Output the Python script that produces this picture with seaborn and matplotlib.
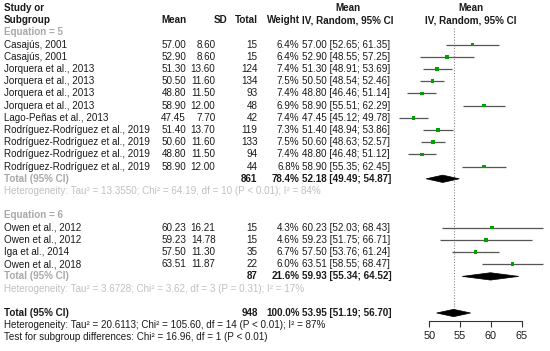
import matplotlib
matplotlib.use("Agg")
import matplotlib.pyplot as plt
import seaborn as sns
import pandas as pd
import numpy as np
from matplotlib.patches import Polygon

sns.set_theme(style="white")
plt.rcParams['font.family'] = ['Liberation Sans', 'DejaVu Sans']

# ---------------- data ----------------
studies = ["Casajús, 2001", "Casajús, 2001", "Jorquera et al., 2013", "Jorquera et al., 2013",
           "Jorquera et al., 2013", "Jorquera et al., 2013", "Lago-Peñas et al., 2013",
           "Rodríguez-Rodríguez et al., 2019", "Rodríguez-Rodríguez et al., 2019",
           "Rodríguez-Rodríguez et al., 2019", "Rodríguez-Rodríguez et al., 2019",
           "Owen et al., 2012", "Owen et al., 2012", "Iga et al., 2014", "Owen et al., 2018"]
groups = [5] * 11 + [6] * 4
means = [57.00, 52.90, 51.30, 50.50, 48.80, 58.90, 47.45, 51.40, 50.60, 48.80, 58.90,
         60.23, 59.23, 57.50, 63.51]
sds = [8.60, 8.60, 13.60, 11.60, 11.50, 12.00, 7.70, 13.70, 11.60, 11.50, 12.00,
       16.21, 14.78, 11.30, 11.87]
totals = [15, 15, 124, 134, 93, 48, 42, 119, 133, 94, 44, 15, 15, 35, 22]
weights = [6.4, 6.4, 7.4, 7.5, 7.4, 6.9, 7.4, 7.3, 7.5, 7.4, 6.8, 4.3, 4.6, 6.7, 6.0]
ci_low = [52.65, 48.55, 48.91, 48.54, 46.46, 55.51, 45.12, 48.94, 48.63, 46.48, 55.35,
          52.03, 51.75, 53.76, 58.55]
ci_high = [61.35, 57.25, 53.69, 52.46, 51.14, 62.29, 49.78, 53.86, 52.57, 51.12, 62.45,
           68.43, 66.71, 61.24, 68.47]

sub_labels = ["Equation = 5", "Equation = 6"]
sub_total = [861, 87]
sub_weight = [78.4, 21.6]
sub_est = [52.18, 59.93]
sub_low = [49.49, 55.34]
sub_high = [54.87, 64.52]
sub_het = ["Heterogeneity: Tau² = 13.3550; Chi² = 64.19, df = 10 (P < 0.01); I² = 84%",
           "Heterogeneity: Tau² = 3.6728; Chi² = 3.62, df = 3 (P = 0.31); I² = 17%"]

all_total = 948
all_est, all_low, all_high = 53.95, 51.19, 56.70
all_het = "Heterogeneity: Tau² = 20.6113; Chi² = 105.60, df = 14 (P < 0.01); I² = 87%"
test_text = "Test for subgroup differences: Chi² = 16.96, df = 1 (P < 0.01)"
xticks = [50, 55, 60, 65]

# ---------------- layout rows ----------------
df = pd.DataFrame(dict(study=studies, group=groups, mean=means, sd=sds, total=totals,
                       weight=weights, lo=ci_low, hi=ci_high))
rows = {5: list(range(3, 14)), 6: list(range(18, 22))}
df["row"] = rows[5] + rows[6]
sub_label_rows = [2, 17]
sub_total_rows = [14, 22]
sub_het_rows = [15, 23]
all_row, all_het_row, test_row = 25, 26, 27

W, H = 550, 351
y0, dy = 8.0, 12.2
ylim = ((H - y0) / dy, -y0 / dy)

fig = plt.figure(figsize=(W / 100, H / 100), dpi=100)
tax = fig.add_axes([0, 0, 1, 1])
tax.set_xlim(0, W)
tax.set_ylim(*ylim)
tax.axis("off")

# forest axes: 50 -> 429.3 px, 65 -> 521.7 px
ppu = (521.7 - 429.3) / 15
fx0, fx1 = 395, 550
fax = fig.add_axes([fx0 / W, 0, (fx1 - fx0) / W, 1])
fax.set_xlim(50 - (429.3 - fx0) / ppu, 65 + (fx1 - 521.7) / ppu)
fax.set_ylim(*ylim)
fax.patch.set_alpha(0)

FS = 7.1
GREY = "#a8a8a8"
BLK = "#1a1a1a"

def t(x, r, s, ha="left", color=BLK, bold=False):
    tax.text(x, r, s, ha=ha, va="center", fontsize=FS, color=color,
             fontweight="bold" if bold else "normal")

XM, XSD, XT, XW, XCI = 186, 215.5, 257.5, 299.5, 302

# headers
t(4, 0, "Study or", bold=True)
t(4, 1, "Subgroup", bold=True)
t(XM, 1, "Mean", ha="right", bold=True)
t(227, 1, "SD", ha="right", bold=True)
t(XT, 1, "Total", ha="right", bold=True)
t(XW + 0.5, 1, "Weight", ha="right", bold=True)
t(348, 0, "Mean", ha="center", bold=True)
t(348, 1, "IV, Random, 95% CI", ha="center", bold=True)
t(471, 0, "Mean", ha="center", bold=True)
t(471, 1, "IV, Random, 95% CI", ha="center", bold=True)

for _, d in df.iterrows():
    r = d["row"]
    t(4, r, d["study"])
    t(XM, r, f"{d['mean']:.2f}", ha="right")
    t(XSD, r, f"{d['sd']:.2f}", ha="right")
    t(XT, r, f"{d['total']}", ha="right")
    t(XW, r, f"{d['weight']:.1f}%", ha="right")
    t(XCI, r, f"{d['mean']:.2f} [{d['lo']:.2f}; {d['hi']:.2f}]")

for i in range(2):
    t(4, sub_label_rows[i], sub_labels[i], color=GREY, bold=True)
    t(4, sub_total_rows[i], "Total (95% CI)", color=GREY, bold=True)
    t(XT, sub_total_rows[i], f"{sub_total[i]}", ha="right", bold=True)
    t(XW, sub_total_rows[i], f"{sub_weight[i]:.1f}%", ha="right", bold=True)
    t(XCI, sub_total_rows[i], f"{sub_est[i]:.2f} [{sub_low[i]:.2f}; {sub_high[i]:.2f}]", bold=True)
    t(4, sub_het_rows[i], sub_het[i], color="#c0c0c0")

t(4, all_row, "Total (95% CI)", bold=True)
t(XT, all_row, f"{all_total}", ha="right", bold=True)
t(XW, all_row, "100.0%", ha="right", bold=True)
t(XCI, all_row, f"{all_est:.2f} [{all_low:.2f}; {all_high:.2f}]", bold=True)
t(4, all_het_row, all_het)
t(4, test_row, test_text)

# ---------------- forest ----------------
fax.vlines(all_est, 1.6, all_row, colors="#888888", linestyles=(0, (1, 1.5)), linewidth=0.8)
fax.hlines(df["row"], df["lo"], df["hi"], colors="#555555", linewidth=0.9, zorder=2)
sns.scatterplot(data=df, x="mean", y="row", ax=fax, color="#00a000", marker="s",
                s=7, edgecolor="none", zorder=3, legend=False)

def diamond(est, lo, hi, r, h=0.3):
    fax.add_patch(Polygon([(lo, r), (est, r - h), (hi, r), (est, r + h)],
                          closed=True, facecolor="black", edgecolor="black", lw=0.5, zorder=3))

for i in range(2):
    diamond(sub_est[i], sub_low[i], sub_high[i], sub_total_rows[i])
diamond(all_est, all_low, all_high, all_row)

# axis
for s in ["top", "right", "left"]:
    fax.spines[s].set_visible(False)
fax.spines["bottom"].set_position(("data", 25.65))
fax.spines["bottom"].set_bounds(50, 65)
fax.spines["bottom"].set_color("#333333")
fax.spines["bottom"].set_linewidth(0.8)
fax.set_xticks(xticks)
fax.set_xticklabels([str(v) for v in xticks])
fax.tick_params(axis="x", direction="out", length=4, width=0.8, color="#333333",
                labelsize=7.8, pad=3, labelcolor=BLK, bottom=True)
fax.set_yticks([])
fax.set_xlabel("")
fax.set_ylabel("")

fig.savefig("out.png", dpi=100)
